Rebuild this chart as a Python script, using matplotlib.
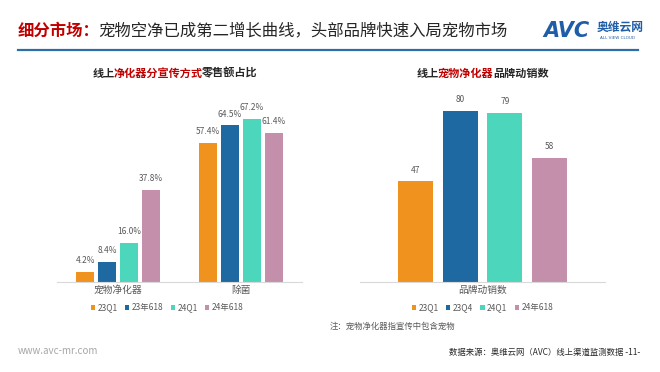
import matplotlib.pyplot as plt
import numpy as np

plt.rcParams['font.family'] = ['Noto Sans CJK SC', 'DejaVu Sans']

# left chart: share of online purifier sales by promotion type
left_cats = ["宠物净化器", "除菌"]
left_series = ["23Q1", "23年618", "24Q1", "24年618"]
left_vals = [
    [4.2, 57.4],
    [8.4, 64.5],
    [16.0, 67.2],
    [37.8, 61.4],
]

# right chart: number of active pet purifier brands
right_cat = ["品牌动销数"]
right_series = ["23Q1", "23Q4", "24Q1", "24年618"]
right_vals = [47, 80, 79, 58]

colors = ["#F0931E", "#1F69A3", "#4CD6BC", "#C48FAB"]
W, H = 660, 372


def box(x0, y0, x1, y1):
    # pixel box (top-left origin) -> figure fraction rect
    return [x0 / W, 1 - y1 / H, (x1 - x0) / W, (y1 - y0) / H]


def chain(ax, x, y, parts, size):
    # draw coloured pieces of text one after another
    txt, col, wt = parts[0]
    prev = ax.text(x, y, txt, color=col, fontsize=size, fontweight=wt, va="center")
    for k, (txt, col, wt) in enumerate(parts[1:]):
        # plain text's extent is a bit wider than the glyphs, annotations are not
        dx = -1.5 if k == 0 else 0
        prev = ax.annotate(txt, xy=(1, 0.5), xycoords=prev, xytext=(dx, 0),
                           textcoords="offset points", va="center", ha="left",
                           fontsize=size, fontweight=wt, color=col)
    return prev


fig = plt.figure(figsize=(6.6, 3.72), dpi=100)

# overlay for header / footer texts
bg = fig.add_axes([0, 0, 1, 1])
bg.set_xlim(0, W)
bg.set_ylim(H, 0)
bg.axis("off")

chain(bg, 18, 31, [("细分市场：", "#C00000", "bold"),
                   ("宠物空净已成第二增长曲线，头部品牌快速入局宠物市场", "#262626", "medium")], 11.8)
bg.plot([18, 638], [50, 50], color="#2E6EA6", lw=1.6)

# logo
bg.text(543, 31, "AVC", color="#1F5DA8", fontsize=15, fontweight="heavy", style="italic",
        va="center", family="DejaVu Sans")
bg.text(597, 27, "奥维云网", color="#1F5DA8", fontsize=8.5, fontweight="bold", va="center")
bg.text(600, 38, "ALL VIEW CLOUD", color="#1F5DA8", fontsize=3, va="center", family="DejaVu Sans")

# subtitles
chain(bg, 93, 73, [("线上", "#262626", "bold"), ("净化器分宣传方式", "#C00000", "bold"),
                   ("零售额占比", "#262626", "bold")], 8)
chain(bg, 417, 73, [("线上", "#262626", "bold"), ("宠物净化器", "#C00000", "bold"),
                    ("品牌动销数", "#262626", "bold")], 8)

# footer
bg.text(330, 326, "注：宠物净化器指宣传中包含宠物", fontsize=6, color="#595959", va="center")
bg.text(18, 351, "www.avc-mr.com", fontsize=7, color="#A6A6A6", va="center")
bg.text(640, 352, "数据来源：奥维云网（AVC）线上渠道监测数据 -11-", fontsize=6,
        color="#262626", va="center", ha="right")

# ---- left chart ----
ax1 = fig.add_axes(box(57, 100, 302, 282))
x = np.arange(len(left_cats))
step, bw = 0.18, 0.147
for i, (name, vals) in enumerate(zip(left_series, left_vals)):
    pos = x + (i - 1.5) * step
    ax1.bar(pos, vals, bw, color=colors[i], label=name)
    for p, v in zip(pos, vals):
        ax1.text(p, v + 2.8, f"{v:.1f}%", ha="center", va="bottom", fontsize=6, color="#595959")
ax1.set_xlim(-0.5, 1.5)
ax1.set_ylim(0, 75)
ax1.set_xticks(x)
ax1.set_xticklabels(left_cats, fontsize=7, color="#595959")
ax1.tick_params(axis="x", length=0, pad=2)
ax1.set_yticks([])
for s in ["top", "right", "left"]:
    ax1.spines[s].set_visible(False)
ax1.spines["bottom"].set_color("#D9D9D9")
ax1.legend(loc="upper center", bbox_to_anchor=(0.45, -0.075), ncol=4, frameon=False,
           fontsize=6, handlelength=0.5, handleheight=0.5, handletextpad=0.3,
           columnspacing=0.9, labelcolor="#595959")

# ---- right chart ----
ax2 = fig.add_axes(box(360, 100, 605, 282))
step2, bw2 = 0.182, 0.143
for i, (name, v) in enumerate(zip(right_series, right_vals)):
    p = (i - 1.5) * step2
    ax2.bar(p, v, bw2, color=colors[i], label=name)
    ax2.text(p, v + 3.2, f"{v}", ha="center", va="bottom", fontsize=6, color="#595959")
ax2.set_xlim(-0.5, 0.5)
ax2.set_ylim(0, 85)
ax2.set_xticks([0])
ax2.set_xticklabels(right_cat, fontsize=7, color="#595959")
ax2.tick_params(axis="x", length=0, pad=2)
ax2.set_yticks([])
for s in ["top", "right", "left"]:
    ax2.spines[s].set_visible(False)
ax2.spines["bottom"].set_color("#D9D9D9")
ax2.legend(loc="upper center", bbox_to_anchor=(0.5, -0.075), ncol=4, frameon=False,
           fontsize=6, handlelength=0.5, handleheight=0.5, handletextpad=0.3,
           columnspacing=0.9, labelcolor="#595959")

fig.savefig("out.png", dpi=100, facecolor="white")
